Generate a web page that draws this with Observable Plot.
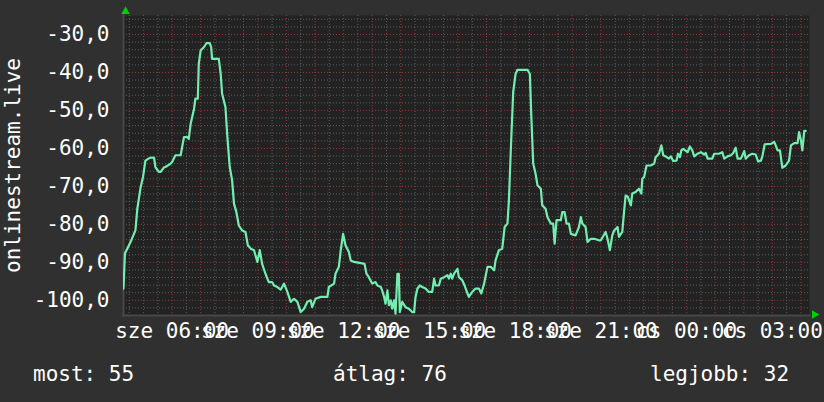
<!DOCTYPE html>
<html><head><meta charset="utf-8">
<script src="https://cdn.jsdelivr.net/npm/d3@7"></script>
<script src="https://cdn.jsdelivr.net/npm/@observablehq/plot@0.6"></script>
<style>
body{margin:0;background:#303030;}
#wrap{width:824px;height:402px;overflow:hidden;background:#303030;}
#wrap svg{display:block;}
</style>
</head><body><div id="wrap"></div>
<script>
// --- data ---
const seriesName = "onlinestream.live";
const startTime = Date.UTC(2024, 0, 3, 4, 18); // szerda 04:18
const spanMinutes = 1440;
const minutes = [0,3,15,25,29,36,41,46,55,64,67,74,78,85,88,99,102,109,120,123,127,134,137,141,148,151,156,158,162,169,174,181,184,186,200,204,207,214,218,223,228,232,237,242,249,256,261,267,274,281,286,291,298,305,312,316,323,330,337,344,351,358,365,372,379,386,393,396,403,414,428,431,442,445,452,456,461,466,473,477,484,498,
506,510,515,522,529,533,540,543,547,550,554,557,561,564,568,571,575,578,580,585,592,599,606,610,613,617,622,627,634,641,648,652,655,662,666,673,680,683,687,690,694,701,704,711,716,722,725,732,739,746,751,757,764,771,778,781,788,795,800,806,809,813,818,823,827,848,853,856,860,865,869,876,879,886,890,897,902,905,909,918,921,926,930,935,939,949,956,960,963,970,974,
981,988,998,1002,1012,1016,1021,1026,1030,1037,1040,1047,1051,1054,1059,1065,1068,1075,1082,1087,1089,1093,1098,1107,1114,1117,1124,1129,1133,1138,1145,1149,1154,1161,1164,1168,1171,1175,1184,1189,1194,1198,1205,1212,1219,1222,1226,1236,1240,1250,1257,1261,1268,1275,1280,1285,1289,1296,1303,1306,1313,1320,1327,1332,1338,1341,1346,1359,1366,1369,1373,1378,1383,1390,1397,1401,1408,1415,1418,1422,1425,1429,1432];
const values = [-96.9,-87.7,-84.6,-81.6,-75.9,-70.2,-67.5,-63.2,-62.5,-62.4,-64.9,-66.2,-66.2,-65,-64.9,-64,-63.6,-61.8,-61.8,-59.7,-57,-57,-57.5,-53.5,-49.6,-46.9,-46.9,-37.7,-34.2,-33.3,-32.3,-32.3,-33.3,-36.4,-36.4,-40.4,-45.6,-49.1,-57,-64.9,-68.4,-74.6,-76.8,-80.3,-81.6,-82,-85.5,-86.4,-86.8,-89.9,-86.8,-90.4,-93,-95.2,-95.2,-96.1,-96.5,-97.2,-95.6,-97.8,-100.4,-99.6,-100.4,-103.1,-102.2,-100.4,-100,-101.8,-99.6,-99.1,-99.1,-96.5,-95.6,-93,-91.2,-86.8,-82.5,-85.5,-87.3,-89.5,-89.9,-90.2,
-90.4,-93,-93.9,-95.6,-95.2,-96.1,-96.5,-97.4,-99.1,-100.9,-97.4,-101.3,-100,-102.2,-100,-103.5,-93,-93,-103.1,-100.4,-101.8,-102.2,-103.1,-103.1,-99.1,-96.9,-96.1,-96.5,-96.9,-97.8,-97.8,-94.3,-96.1,-96.1,-94.3,-93.9,-93.4,-94.3,-93,-94.3,-93,-91.7,-93.9,-94.7,-96.1,-98.2,-99.1,-97.8,-96.9,-96.9,-98.2,-95.6,-91.2,-91.2,-92.1,-89.5,-86.8,-86.4,-80.7,-79.8,-73.7,-60.5,-45.2,-40.4,-39.3,-39.3,-40.4,-51.3,-64,-66.7,-69.7,-70.6,-75,-75.9,-78.1,-79.8,-79.8,-85.1,-78.9,-78.9,-76.8,-76.8,-79.8,-79.8,-82.5,-82.9,-80.7,-78.1,-79.8,-80.7,-84.6,
-83.8,-83.8,-84.2,-84.2,-82,-83.8,-86.8,-82.9,-81.6,-80.7,-83.3,-82,-76.3,-72.4,-72.8,-75,-71.9,-71.5,-70.6,-71.9,-68,-67.5,-64.5,-64.5,-64,-62.3,-61.4,-59.2,-61.8,-62.1,-62.7,-62.1,-63.3,-63.2,-61.4,-62.3,-60.5,-60.1,-61,-59.5,-60.5,-62.1,-61.4,-61,-61.6,-61.2,-62.7,-62.7,-61.4,-61.4,-61,-62.7,-62.1,-61.8,-61.2,-59.8,-62.7,-62.7,-60.7,-62.7,-61.8,-61.4,-61.6,-63.4,-63.2,-62.1,-58.9,-58.8,-58.3,-59.2,-60.5,-60.5,-65.1,-64.5,-63.2,-59.2,-58.6,-58.6,-55.7,-57.9,-60.5,-55.4,-55.4];
const yDomain = [-104, -25];
const yTicks = [-30, -40, -50, -60, -70, -80, -90, -100];
const xTickHours = [6, 9, 12, 15, 18, 21, 24, 27]; // hours after 00:00 of start day
const dayNames = ["v", "h", "k", "sze", "cs", "p", "szo"];
const legendLabels = ["most:", "átlag:", "legjobb:"];
const legendValues = ["55", "76", "32"];

// --- build ---
const dayStart = Date.UTC(2024, 0, 3);
const data = minutes.map((m, i) => ({t: new Date(startTime + m * 60000), v: values[i]}));
const xDomain = [new Date(startTime), new Date(startTime + spanMinutes * 60000)];
const xTicks = xTickHours.map(h => new Date(dayStart + h * 3600000));
const hourLines = d3.utcHour.range(xDomain[0], xDomain[1]);
const halfHourLines = d3.utcMinute.every(30).range(xDomain[0], xDomain[1]).filter(d => d.getUTCMinutes() === 30);
const minorY = d3.range(-104, -24, 2).filter(v => v % 10 !== 0);
const fmtX = d => `${dayNames[d.getUTCDay()]} ${d3.utcFormat("%H:%M")(d)}`;
const fmtY = d => d.toFixed(1).replace(".", ",");

const gridGray = "#5c5c5c";
const gridRed = "#8f3a3a";

const plot = Plot.plot({
  width: 824,
  height: 350,
  marginLeft: 123,
  marginRight: 15,
  marginTop: 15,
  marginBottom: 35,
  style: {background: "#303030", color: "#ffffff", fontFamily: "'DejaVu Sans Mono', monospace", fontSize: "21px"},
  x: {type: "utc", domain: xDomain, axis: null},
  y: {domain: yDomain, axis: null},
  marks: [
    Plot.frame({fill: "#222222", stroke: null}),
    Plot.ruleX(halfHourLines, {stroke: gridGray, strokeDasharray: "1,2", strokeWidth: 1}),
    Plot.ruleY(minorY, {stroke: gridGray, strokeDasharray: "1,2", strokeWidth: 1}),
    Plot.ruleX(hourLines, {stroke: gridRed, strokeDasharray: "1,2", strokeWidth: 1}),
    Plot.ruleY(yTicks, {stroke: gridRed, strokeDasharray: "1,2", strokeWidth: 1}),
    Plot.frame({anchor: "bottom", stroke: "#484848", strokeWidth: 2}),
    Plot.frame({anchor: "left", stroke: "#484848", strokeWidth: 2}),
    Plot.lineY(data, {x: "t", y: "v", stroke: "#72eeb0", strokeWidth: 2.2, clip: true}),
    Plot.axisY(yTicks, {label: null, tickFormat: fmtY, tickSize: 0, tickPadding: 14, fill: "#ffffff", fontSize: 21}),
    Plot.axisX(xTicks, {label: null, tickFormat: fmtX, tickSize: 0, tickPadding: 8, fill: "#ffffff", fontSize: 21}),
    Plot.text([seriesName], {frameAnchor: "left", rotate: -90, dx: -104, textAnchor: "middle", lineAnchor: "bottom", fill: "#ffffff", fontSize: 21}),
    Plot.dot([0], {frameAnchor: "top-left", symbol: "triangle", r: 3.2, fill: "#00d000", stroke: null, dx: 2, dy: -4}),
    Plot.dot([0], {frameAnchor: "bottom-right", symbol: "triangle", r: 3.2, fill: "#00d000", stroke: null, rotate: 90, dx: 5, dy: -1})
  ]
});
const wrap = document.getElementById("wrap");
wrap.appendChild(plot);

// legend row below the chart
const legendX = [33, 333, 650];
const leg = d3.create("svg").attr("width", 824).attr("height", 52)
  .style("display", "block").style("background", "#303030");
leg.selectAll("text").data(legendLabels).join("text")
  .attr("x", (d, i) => legendX[i]).attr("y", 31)
  .attr("fill", "#ffffff")
  .attr("font-family", "'DejaVu Sans Mono', monospace")
  .attr("font-size", 21)
  .attr("xml:space", "preserve")
  .text((d, i) => `${d} ${legendValues[i]}`);
wrap.appendChild(leg.node());
</script>
</body></html>
